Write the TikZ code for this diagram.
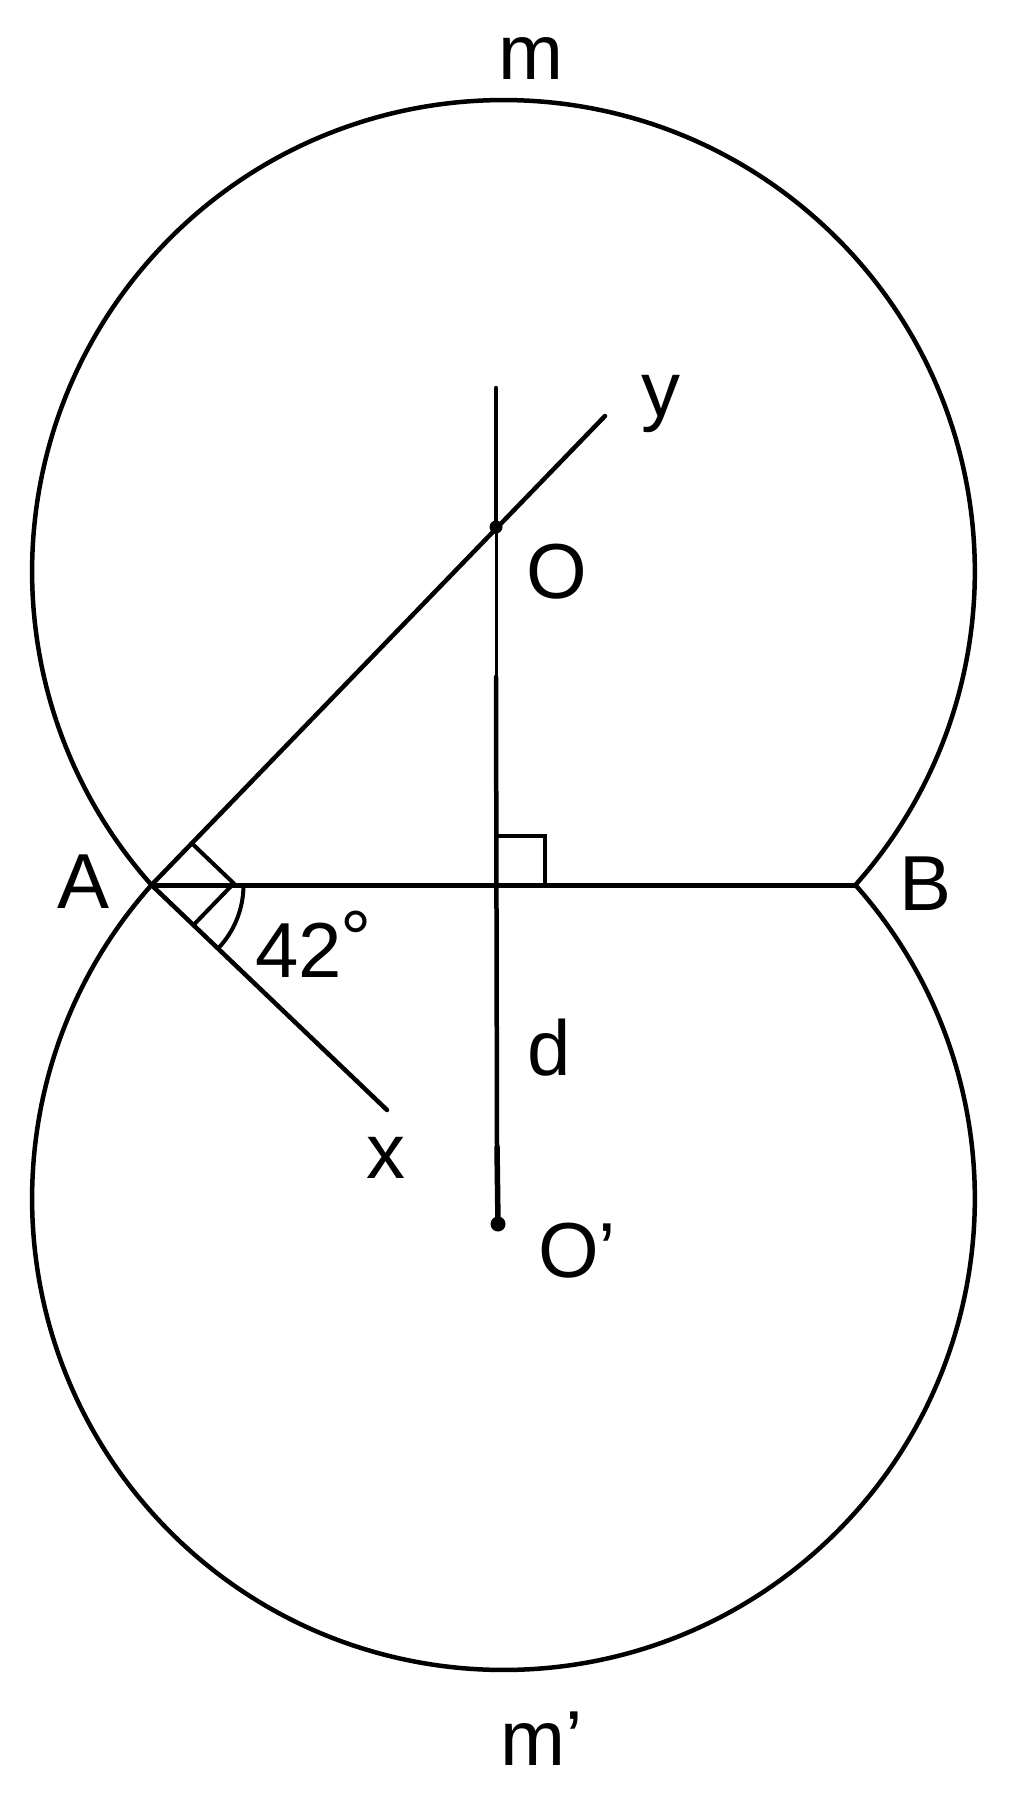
\documentclass[tikz,border=0pt]{standalone}
\usepackage{fontspec}
\setmainfont{Liberation Sans}
\usetikzlibrary{calc}
\begin{document}
\begin{tikzpicture}[x=1pt,y=-1pt,
  curve/.style={line width=4.5pt,line cap=round},
  seg/.style={line width=4.5pt,line cap=round},
  lbl/.style={anchor=base west,inner sep=0pt,font=\fontsize{78}{90}\selectfont}]
\fill[white] (0,0) rectangle (1024,1798);
\useasboundingbox (0,0) rectangle (1024,1798);
% key points
\coordinate (A) at (151.5,885);
\coordinate (B) at (855.4,885);
\coordinate (O) at (496,527);
\coordinate (Op) at (498,1224);
\coordinate (Y) at (605,416);
\coordinate (X) at (387,1110);
\coordinate (T) at (496,388);
\coordinate (H) at (496,885);
\coordinate (V1) at (496,677);
\coordinate (V2) at (497,1147);
% the two arcs
\draw[curve] (B) arc[start angle=41.7,end angle=-221.7,radius=471.4];
\draw[curve] (B) arc[start angle=-41.7,end angle=221.7,radius=471.4];
% chord AB
\draw[line width=5pt] (A) -- (B);
% rays Ay and Ax
\draw[seg] (A) -- (Y);
\draw[seg] (A) -- (X);
% vertical line through O and O'
\draw[seg] (T) -- (O);
\draw[line width=3pt] (O) -- (V1);
\draw[seg] (V1) -- (V2);
\draw[line width=5.5pt,line cap=round] (V2) -- (Op);
\fill (O) circle[radius=6.5];
\fill (Op) circle[radius=7.5];
% right angle at the foot
\coordinate (s1) at (496,835.5);
\coordinate (s2) at (545,835.5);
\coordinate (s3) at (545,885);
\draw[line width=4pt] (s1) -- (s2) -- (s3);
% right angle yAx
\coordinate (r1) at ($(A)!58pt!(Y)$);
\coordinate (r2) at ($(A)!58pt!(X)$);
\coordinate (rc) at ($(r1)+(r2)-(A)$);
\draw[line width=4pt] (r1) -- (rc) -- (r2);
% angle 42 degrees
\draw[line width=4pt] ($(A)+(92,0)$) arc[start angle=0,end angle=43.6,radius=92];
% labels
\node[lbl] (lm) at (498,80) {m};
\node[lbl] (ly) at (641,416) {y};
\node[lbl] (lO) at (526,598) {O};
\node[lbl] (lA) at (57,908) {A};
\node[lbl] (lB) at (899,910) {B};
\node[lbl] (l42) at (255,977) {42\kern-1pt\raisebox{12pt}{°}};
\node[lbl] (ld) at (527,1075) {d};
\node[lbl] (lx) at (366,1178) {x};
\node[lbl] (lOp) at (538,1277) {O’};
\node[lbl] (lmp) at (500,1765) {m’};
\end{tikzpicture}
\end{document}
